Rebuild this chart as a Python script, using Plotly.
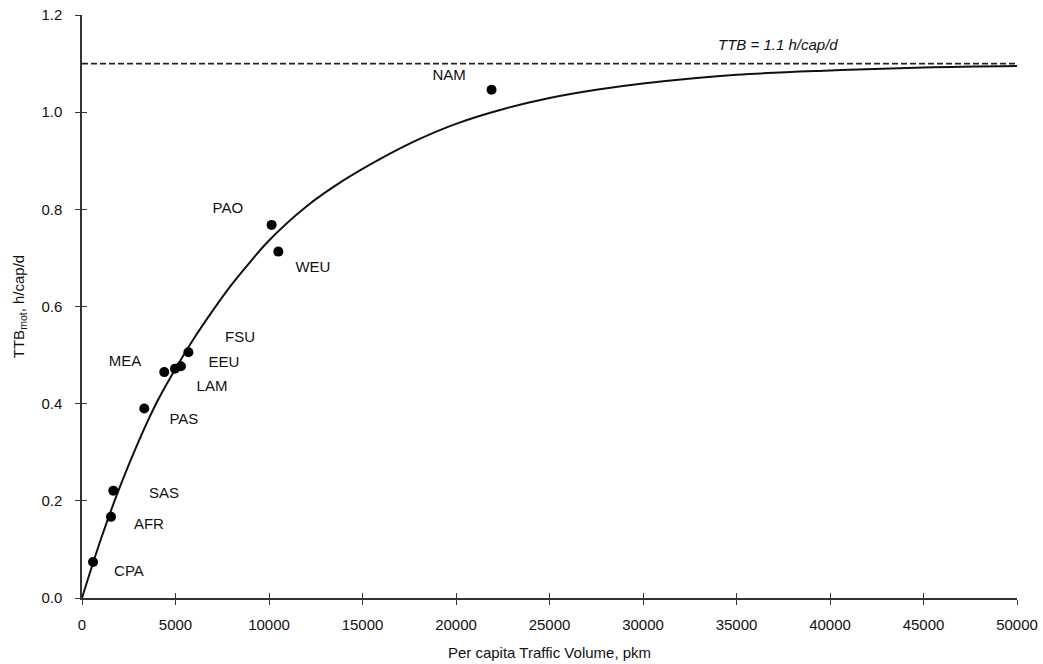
import plotly.graph_objects as go

# Regional data points
regions = ["CPA", "AFR", "SAS", "PAS", "MEA", "LAM", "EEU", "FSU", "PAO", "WEU", "NAM"]
volume_pkm = [590, 1550, 1675, 3330, 4400, 4970, 5290, 5690, 10140, 10500, 21900]
ttb_mot = [0.074, 0.167, 0.221, 0.390, 0.465, 0.472, 0.477, 0.506, 0.768, 0.713, 1.046]

# Label anchor positions (data coords)
label_x = [2510, 3580, 4390, 5450, 2300, 6950, 7590, 8450, 7800, 12350, 19630]
label_y = [0.053, 0.150, 0.214, 0.366, 0.485, 0.434, 0.483, 0.534, 0.800, 0.678, 1.073]

# Saturation curve
curve_x = [0, 1000, 2000, 3000, 4000, 5000, 6000, 7000, 8000, 9000, 10000, 12000,
           14000, 16000, 18000, 20000, 22500, 25000, 27500, 30000, 35000, 40000, 45000, 50000]
curve_y = [0.0, 0.120, 0.226, 0.320, 0.403, 0.472, 0.535, 0.592, 0.645, 0.692, 0.736, 0.806,
           0.860, 0.905, 0.944, 0.976, 1.006, 1.029, 1.046, 1.059, 1.077, 1.086, 1.092, 1.095]

ttb_limit = 1.1
limit_x = [0, 50000]

x_ticks = list(range(0, 50001, 5000))
y_ticks = [0.0, 0.2, 0.4, 0.6, 0.8, 1.0, 1.2]

font_family = "Liberation Sans, Arial, sans-serif"

fig = go.Figure()

fig.add_trace(go.Scatter(
    x=limit_x, y=[ttb_limit, ttb_limit], mode="lines",
    line=dict(color="#222", width=1.6, dash="6px,3px"),
    hoverinfo="skip", showlegend=False))

fig.add_trace(go.Scatter(
    x=curve_x, y=curve_y, mode="lines",
    line=dict(color="#111", width=2, shape="spline", smoothing=1.0),
    hoverinfo="skip", showlegend=False))

fig.add_trace(go.Scatter(
    x=volume_pkm, y=ttb_mot, mode="markers",
    marker=dict(color="#000", size=10),
    text=regions, showlegend=False))

fig.add_trace(go.Scatter(
    x=label_x, y=label_y, mode="text", text=regions,
    textfont=dict(family=font_family, size=15, color="#111"),
    textposition="middle center", hoverinfo="skip", showlegend=False))

fig.add_annotation(
    x=37220, y=1.139, text="<i>TTB = 1.1 h/cap/d</i>", showarrow=False,
    font=dict(family=font_family, size=15, color="#111"),
    xanchor="center", yanchor="middle")

axis_common = dict(
    showgrid=False, zeroline=False, showline=True, linecolor="#333", linewidth=1.5,
    ticks="outside", ticklen=5, tickwidth=1.2, tickcolor="#333", automargin=False,
    tickfont=dict(family=font_family, size=15, color="#111"),
)

fig.update_layout(
    width=1043, height=664,
    margin=dict(l=82, r=26, t=15, b=66),
    plot_bgcolor="white", paper_bgcolor="white",
    xaxis=dict(range=[0, 50000], tickvals=x_ticks, ticktext=[str(v) for v in x_ticks],
               ticklabelstandoff=7,
               title=dict(text="Per capita Traffic Volume, pkm", standoff=16,
                          font=dict(family=font_family, size=15, color="#111")),
               **axis_common),
    yaxis=dict(range=[0, 1.2], tickvals=y_ticks, tickformat=".1f",
               ticklabelstandoff=10,
               title=dict(text="TTB<sub>mot</sub>, h/cap/d", standoff=13,
                          font=dict(family=font_family, size=15, color="#111")),
               **axis_common),
    xaxis2=dict(overlaying="x", anchor="y", range=[0, 50000], tickvals=x_ticks,
                showticklabels=False, showgrid=False, zeroline=False, showline=False,
                ticks="inside", ticklen=5, tickwidth=1.2, tickcolor="#333"),
    yaxis2=dict(overlaying="y", anchor="x", range=[0, 1.2], tickvals=y_ticks,
                showticklabels=False, showgrid=False, zeroline=False, showline=False,
                ticks="inside", ticklen=5, tickwidth=1.2, tickcolor="#333"),
)

# invisible trace to activate the secondary tick axes
fig.add_trace(go.Scatter(x=[0], y=[0], xaxis="x2", yaxis="y2", mode="markers",
                         marker=dict(opacity=0), hoverinfo="skip", showlegend=False))

fig.write_html("out.html")
